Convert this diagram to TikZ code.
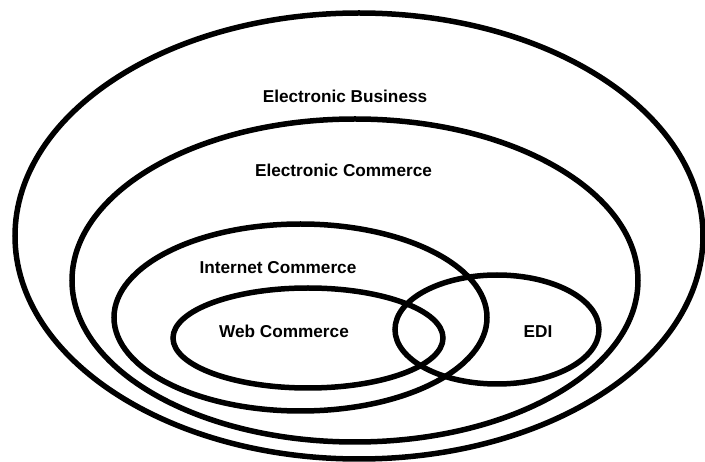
\documentclass[tikz,border=0pt]{standalone}
\usepackage{fontspec}
\setmainfont{Liberation Sans}
\begin{document}
\begin{tikzpicture}[x=1pt,y=-1pt,
    ring/.style={draw=black,line width=5.5pt},
    lbl/.style={font=\bfseries\fontsize{17.2}{20}\selectfont,inner sep=0pt}]
      \useasboundingbox (0,0) rectangle (705,462);
      \begin{scope}[ring]
        \draw (359,236) ellipse [x radius=344, y radius=223];
        \draw (355,280.5) ellipse [x radius=283, y radius=161.5];
        \draw (300.5,317.5) ellipse [x radius=186.5, y radius=93.5];
        \draw (308,338) ellipse [x radius=135, y radius=50];
        \draw (497,329.5) ellipse [x radius=102, y radius=54.5];
      \end{scope}
      \draw
        (345,96) node[lbl] (eb){Electronic Business}
        (343.5,170) node[lbl] (ec){Electronic Commerce}
        (278,268) node[lbl] (ic){Internet Commerce}
        (284,331) node[lbl] (wc){Web Commerce}
        (538,332) node[lbl] (edi){EDI};
    \end{tikzpicture}
\end{document}
